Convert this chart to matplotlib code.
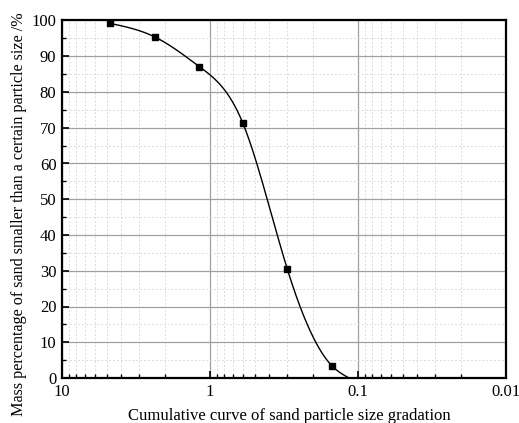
import numpy as np
import matplotlib
matplotlib.use("Agg")
import matplotlib.pyplot as plt
from matplotlib.ticker import LogLocator, MultipleLocator, FixedLocator, FixedFormatter, NullFormatter

# ---- data ----
particle_size = [4.75, 2.36, 1.18, 0.6, 0.3, 0.15]
passing_pct = [99.2, 95.4, 87.1, 71.3, 30.4, 3.4]
curve_end_size = 0.115
curve_end_pct = 0.0
x_tick_values = [10, 1, 0.1, 0.01]
x_tick_labels = ["10", "1", "0.1", "0.01"]
xlabel = "Cumulative curve of sand particle size gradation"
ylabel = "Mass percentage of sand smaller than a certain particle size /%"

plt.rcParams['font.family'] = ['Liberation Serif', 'DejaVu Serif']


def natural_spline(xk, yk, xq):
    xk = np.asarray(xk, float); yk = np.asarray(yk, float)
    n = len(xk); h = np.diff(xk)
    A = np.zeros((n, n)); b = np.zeros(n)
    A[0, 0] = 1; A[-1, -1] = 1
    for i in range(1, n - 1):
        A[i, i - 1] = h[i - 1]; A[i, i] = 2 * (h[i - 1] + h[i]); A[i, i + 1] = h[i]
        b[i] = 6 * ((yk[i + 1] - yk[i]) / h[i] - (yk[i] - yk[i - 1]) / h[i - 1])
    M = np.linalg.solve(A, b)
    idx = np.clip(np.searchsorted(xk, xq) - 1, 0, n - 2)
    x0 = xk[idx]; x1 = xk[idx + 1]; hh = h[idx]
    return (M[idx] * (x1 - xq)**3 / (6 * hh) + M[idx + 1] * (xq - x0)**3 / (6 * hh)
            + (yk[idx] / hh - M[idx] * hh / 6) * (x1 - xq)
            + (yk[idx + 1] / hh - M[idx + 1] * hh / 6) * (xq - x0))


xs_all = np.array(particle_size + [curve_end_size])
ys_all = np.array(passing_pct + [curve_end_pct])
order = np.argsort(xs_all)
lx = np.log10(xs_all[order]); yy = ys_all[order]
lq = np.linspace(lx[0], lx[-1], 500)
yq = natural_spline(lx, yy, lq)

fig = plt.figure(figsize=(5.19, 4.23), dpi=100)
ax = fig.add_axes([62/519, 1-378/423, 444/519, 357.5/423])
ax.set_xscale('log')
ax.set_xlim(10, 0.01)
ax.set_ylim(0, 100)

ax.plot(10**lq, yq, color='black', lw=1.0, zorder=3)
ax.plot(particle_size, passing_pct, 's', color='black', ms=4, zorder=4)

ax.xaxis.set_major_locator(FixedLocator(x_tick_values))
ax.xaxis.set_major_formatter(FixedFormatter(x_tick_labels))
ax.xaxis.set_minor_locator(LogLocator(base=10, subs=np.arange(2, 10), numticks=20))
ax.xaxis.set_minor_formatter(NullFormatter())
ax.yaxis.set_major_locator(MultipleLocator(10))
ax.yaxis.set_minor_locator(MultipleLocator(5))

ax.grid(which='major', color='#a0a0a0', lw=0.9, ls='-')
ax.grid(which='minor', color='#dadada', lw=0.7, ls=(0, (2, 2)))
ax.set_axisbelow(True)

ax.tick_params(which='major', direction='in', length=5, width=1.2, labelsize=12,
               top=False, right=False, pad=4)
ax.tick_params(which='minor', direction='in', length=3, width=1.0, top=False, right=False)
for s in ax.spines.values():
    s.set_linewidth(1.6)

ax.set_xlabel(xlabel, fontsize=12)
ax.set_ylabel(ylabel, fontsize=11.6)
ax.xaxis.set_label_coords(0.513, -0.084)
ax.yaxis.set_label_coords(-0.079, 0.459)

fig.savefig('out.png', dpi=100)
